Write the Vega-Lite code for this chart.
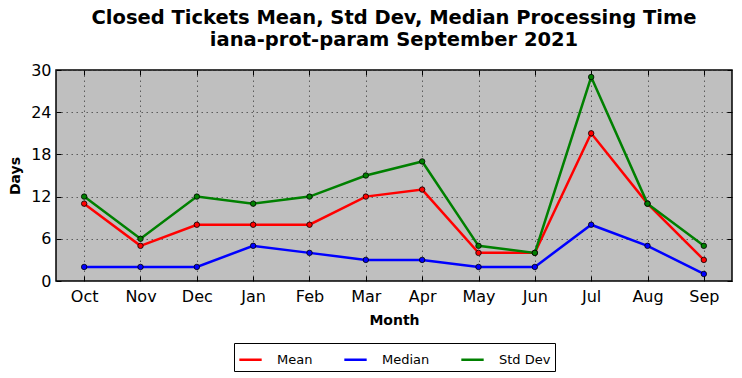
{
  "$schema": "https://vega.github.io/schema/vega-lite/v6.json",
  "width": 676,
  "height": 211,
  "autosize": "none",
  "padding": {"left": 56, "top": 70, "right": 10, "bottom": 97},
  "background": "white",
  "title": {
    "text": ["Closed Tickets Mean, Std Dev, Median Processing Time", "iana-prot-param September 2021"],
    "font": "DejaVu Sans",
    "fontSize": 19.5,
    "fontWeight": "bold",
    "color": "black",
    "anchor": "middle",
    "offset": 12,
    "lineHeight": 22
  },
  "config": {
    "view": {"fill": "#bfbfbf", "stroke": "black", "strokeWidth": 1.5},
    "axis": {
      "labelFont": "DejaVu Sans",
      "titleFont": "DejaVu Sans",
      "labelColor": "black",
      "titleColor": "black",
      "labelFontSize": 16,
      "titleFontSize": 14,
      "titleFontWeight": "bold",
      "domain": false,
      "tickColor": "black",
      "tickSize": -5,
      "gridColor": "#444444",
      "gridDash": [1.5, 3.5],
      "gridOpacity": 0.8,
      "gridWidth": 1
    }
  },
  "resolve": {"axis": {"x": "independent", "y": "independent"}},
  "data": {
    "values": [
      {"month": "Oct", "series": "Mean", "value": 11},
      {"month": "Nov", "series": "Mean", "value": 5},
      {"month": "Dec", "series": "Mean", "value": 8},
      {"month": "Jan", "series": "Mean", "value": 8},
      {"month": "Feb", "series": "Mean", "value": 8},
      {"month": "Mar", "series": "Mean", "value": 12},
      {"month": "Apr", "series": "Mean", "value": 13},
      {"month": "May", "series": "Mean", "value": 4},
      {"month": "Jun", "series": "Mean", "value": 4},
      {"month": "Jul", "series": "Mean", "value": 21},
      {"month": "Aug", "series": "Mean", "value": 11},
      {"month": "Sep", "series": "Mean", "value": 3},
      {"month": "Oct", "series": "Median", "value": 2},
      {"month": "Nov", "series": "Median", "value": 2},
      {"month": "Dec", "series": "Median", "value": 2},
      {"month": "Jan", "series": "Median", "value": 5},
      {"month": "Feb", "series": "Median", "value": 4},
      {"month": "Mar", "series": "Median", "value": 3},
      {"month": "Apr", "series": "Median", "value": 3},
      {"month": "May", "series": "Median", "value": 2},
      {"month": "Jun", "series": "Median", "value": 2},
      {"month": "Jul", "series": "Median", "value": 8},
      {"month": "Aug", "series": "Median", "value": 5},
      {"month": "Sep", "series": "Median", "value": 1},
      {"month": "Oct", "series": "Std Dev", "value": 12},
      {"month": "Nov", "series": "Std Dev", "value": 6},
      {"month": "Dec", "series": "Std Dev", "value": 12},
      {"month": "Jan", "series": "Std Dev", "value": 11},
      {"month": "Feb", "series": "Std Dev", "value": 12},
      {"month": "Mar", "series": "Std Dev", "value": 15},
      {"month": "Apr", "series": "Std Dev", "value": 17},
      {"month": "May", "series": "Std Dev", "value": 5},
      {"month": "Jun", "series": "Std Dev", "value": 4},
      {"month": "Jul", "series": "Std Dev", "value": 29},
      {"month": "Aug", "series": "Std Dev", "value": 11},
      {"month": "Sep", "series": "Std Dev", "value": 5}
    ]
  },
  "encoding": {
    "color": {
      "field": "series",
      "type": "nominal",
      "scale": {"domain": ["Mean", "Median", "Std Dev"], "range": ["#ff0000", "#0000ff", "#008000"]},
      "legend": {
        "title": null,
        "orient": "none",
        "legendX": 178,
        "legendY": 273,
        "direction": "horizontal",
        "columns": 3,
        "symbolType": "stroke",
        "symbolSize": 500,
        "symbolStrokeWidth": 2.5,
        "labelFont": "DejaVu Sans",
        "labelFontSize": 13,
        "labelColor": "black",
        "columnPadding": 26,
        "padding": 4,
        "rowPadding": 0,
        "strokeColor": "black",
        "fillColor": "white",
        "labelOffset": 14
      }
    }
  },
  "layer": [
    {
      "mark": {"type": "line", "strokeWidth": 2.5},
      "encoding": {
        "x": {
          "field": "month",
          "type": "ordinal",
          "sort": ["Oct", "Nov", "Dec", "Jan", "Feb", "Mar", "Apr", "May", "Jun", "Jul", "Aug", "Sep"],
          "scale": {"type": "point", "padding": 0.5},
          "axis": {"title": "Month", "labelAngle": 0, "grid": true, "labelPadding": 12, "titlePadding": 9}
        },
        "y": {
          "field": "value",
          "type": "quantitative",
          "scale": {"domain": [0, 30], "nice": false},
          "axis": {"title": "Days", "values": [0, 6, 12, 18, 24, 30], "grid": true, "labelPadding": 10, "titlePadding": 8}
        }
      }
    },
    {
      "mark": {"type": "point", "filled": true, "size": 30, "stroke": "black", "strokeWidth": 0.8, "opacity": 1},
      "encoding": {
        "x": {
          "field": "month",
          "type": "ordinal",
          "sort": ["Oct", "Nov", "Dec", "Jan", "Feb", "Mar", "Apr", "May", "Jun", "Jul", "Aug", "Sep"],
          "scale": {"type": "point", "padding": 0.5},
          "axis": {"orient": "top", "title": null, "labels": false, "grid": false}
        },
        "y": {
          "field": "value",
          "type": "quantitative",
          "scale": {"domain": [0, 30], "nice": false},
          "axis": {"orient": "right", "title": null, "labels": false, "grid": false, "values": [0, 6, 12, 18, 24, 30]}
        }
      }
    }
  ]
}
